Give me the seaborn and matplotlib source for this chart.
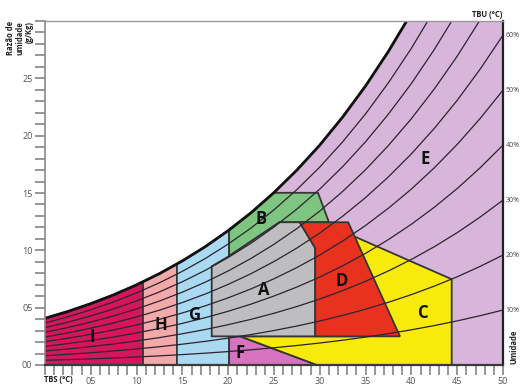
import numpy as np
import pandas as pd
import matplotlib
matplotlib.use("Agg")
import matplotlib.pyplot as plt
from matplotlib.patches import Polygon
from matplotlib.ticker import MultipleLocator
import seaborn as sns

# Saturation humidity ratio (g/kg) against dry-bulb temperature (°C)
tbs = [0, 2.5, 5, 7.5, 10, 12.5, 15, 17.5, 20, 22.5, 25, 27.5,
       30, 32.5, 35, 37.5, 40, 42.5, 45, 47.5, 50]
w_sat = [4.07, 4.67, 5.35, 6.12, 6.99, 7.97, 9.08, 10.32, 11.72, 13.28, 15.04, 17.00,
         19.18, 21.63, 24.34, 27.36, 30.69, 34.39, 38.47, 42.99, 47.94]

# Relative humidity curves and the ones labelled on the right edge
rh_levels = [10, 20, 30, 40, 50, 60, 70, 80, 90]
rh_labelled = [10, 20, 30, 40, 50, 60]

# Axis tick labels
x_tick_labels = ["05", "10", "15", "20", "25", "30", "35", "40", "45", "50"]
y_tick_labels = ["00", "05", "10", "15", "20", "25"]

# Bioclimatic zones: bands bounded by the saturation curve
band_i = (0.0, 10.7)
band_h = (10.7, 14.4)
band_g = (14.4, 20.1)
# Zone B: left edge, top ratio and right-hand outline
b_left = (20.1, 9.5)
b_top = 15.02
b_right = [(29.8, 15.02), (31.0, 12.45), (25.6, 12.45)]
# Polygonal zones (dry-bulb °C, humidity ratio g/kg)
zone_a = [(18.2, 2.5), (18.2, 8.6), (20.1, 9.5), (25.6, 12.45), (27.8, 12.45),
          (29.5, 10.2), (29.5, 2.5)]
zone_d = [(29.5, 2.5), (29.5, 10.2), (27.8, 12.45), (33.1, 12.45), (38.75, 2.5)]
zone_c = [(21.3, 2.5), (29.7, 0.0), (44.4, 0.0), (44.4, 7.48), (33.8, 11.2), (33.8, 2.5)]
zone_f = [(20.1, 0.0), (20.1, 2.5), (21.3, 2.5), (29.7, 0.0)]

zone_colors = {
    "E": "#d8b5da", "I": "#d5155c", "H": "#f3a8a9", "G": "#aad9f2",
    "B": "#7dc580", "F": "#d672be", "C": "#f8ea0b", "A": "#bebec0", "D": "#e8321f",
}
letter_pos = {
    "I": (5.2, 2.4), "H": (12.6, 3.5), "G": (16.4, 4.4), "F": (21.3, 1.05),
    "A": (23.9, 6.5), "D": (32.4, 7.3), "C": (41.3, 4.5), "B": (23.6, 12.7),
    "E": (41.5, 18.0),
}

T = np.array(tbs, dtype=float)
WS = np.array(w_sat, dtype=float)
W_TOP = 30.0


def sat(t):
    return np.interp(t, T, WS)


def sat_band(t0, t1):
    inner = [(t, w) for t, w in zip(T, WS) if t0 < t < t1]
    return [(t0, sat(t0))] + inner + [(t1, sat(t1))]


sns.set_style("white")
plt.rcParams["font.family"] = ["Open Sans", "DejaVu Sans"]

fig = plt.figure(figsize=(5.2, 3.87), dpi=100)
ax = fig.add_axes([45 / 520, 1 - 365 / 387, (503 - 45) / 520, (365 - 21) / 387])
ax.set_xlim(0, 50)
ax.set_ylim(0, W_TOP)

edge = "#363636"
lw_edge = 1.3


def add_zone(points, key, z):
    ax.add_patch(Polygon(points, closed=True, facecolor=zone_colors[key],
                         edgecolor=edge, linewidth=lw_edge, zorder=z,
                         joinstyle="miter"))


# Zone E: everything under the saturation curve, capped by the chart top
t_top = float(np.interp(W_TOP, WS, T))
e_curve = [(t, w) for t, w in zip(T, WS) if t < t_top]
zone_e = [(0.0, 0.0)] + e_curve + [(t_top, W_TOP), (50.0, W_TOP), (50.0, 0.0)]
add_zone(zone_e, "E", 1)

for key, band in (("I", band_i), ("H", band_h), ("G", band_g)):
    add_zone([(band[0], 0.0)] + sat_band(*band) + [(band[1], 0.0)], key, 2)

t_b = float(np.interp(b_top, WS, T))
zone_b = [b_left] + sat_band(b_left[0], t_b)[:-1] + [(t_b, b_top)] + b_right
add_zone(zone_b, "B", 2)
add_zone(zone_f, "F", 2)
add_zone(zone_c, "C", 3)
add_zone(zone_a, "A", 4)
add_zone(zone_d, "D", 4)

# Relative humidity curves
rows = []
for rh in rh_levels:
    for t, w in zip(T, WS):
        rows.append({"tbs": t, "w": rh / 100 * w, "rh": rh})
curves = pd.DataFrame(rows)
sns.lineplot(data=curves, x="tbs", y="w", units="rh", estimator=None,
             color="#2c2430", linewidth=0.9, legend=False, ax=ax, zorder=6)

# Saturation curve
sat_pts = np.array(e_curve + [(t_top, W_TOP)])
ax.plot(sat_pts[:, 0], sat_pts[:, 1], color="#111111", linewidth=2.0, zorder=7,
        solid_capstyle="butt")

for key, (tx, wy) in letter_pos.items():
    ax.text(tx, wy, key, ha="center", va="center", fontsize=12,
            fontweight="bold", color="#111111", zorder=9)

# Axes styling
for side, col, lw in (("top", "#9a9a9a", 1.0), ("left", "#8a8a8a", 1.2),
                      ("bottom", "#3a3a3a", 1.6), ("right", "#222222", 1.6)):
    ax.spines[side].set_color(col)
    ax.spines[side].set_linewidth(lw)
    ax.spines[side].set_zorder(8)

ax.xaxis.set_minor_locator(MultipleLocator(1))
ax.yaxis.set_minor_locator(MultipleLocator(1))
ax.set_xticks(np.arange(0, 51, 5))
ax.set_xticklabels([""] + x_tick_labels)
ax.set_yticks(np.arange(0, 30, 5))
ax.set_yticklabels(y_tick_labels)
ax.tick_params(axis="both", which="both", direction="out", color="#7a7a7a",
               width=1.1, labelsize=6.5, labelcolor="#555555", pad=2, length=7)
ax.tick_params(left=True, bottom=True, which="both")
ax.set_xlabel("")
ax.set_ylabel("")

# Right-edge humidity labels
for rh in rh_labelled:
    ax.text(50.3, rh / 100 * WS[-1], f"{rh}%", ha="left", va="center",
            fontsize=5, color="#444444", clip_on=False)

fig.text(20 / 520, 1 - 21 / 387, "Razão de\numidade\n(g/Kg)", rotation=90,
         ha="center", va="top", multialignment="right", fontsize=5.5,
         fontweight="bold", color="#222222", linespacing=1.0)
fig.text(502 / 520, 1 - 19 / 387, "TBU (°C)", ha="right", va="bottom",
         fontsize=5.5, fontweight="bold", color="#222222")
fig.text(44 / 520, 1 - 379 / 387, "TBS (°C)", ha="left", va="center",
         fontsize=5.5, fontweight="bold", color="#222222")
fig.text(509 / 520, 1 - 347 / 387, "Umidade", rotation=90,
         ha="left", va="center", fontsize=5.5, fontweight="bold",
         color="#222222")

fig.savefig("out.png", dpi=100, facecolor="white")
